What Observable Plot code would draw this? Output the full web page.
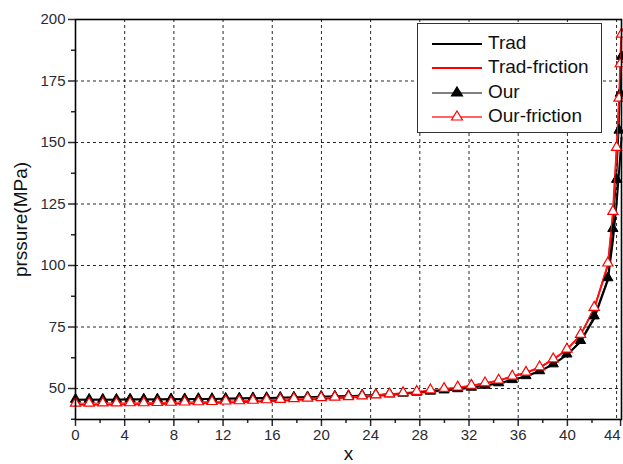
<!DOCTYPE html>
<html>
<head>
<meta charset="utf-8">
<script src="https://cdn.jsdelivr.net/npm/d3@7"></script>
<script src="https://cdn.jsdelivr.net/npm/@observablehq/plot@0.6"></script>
<style>
  html, body { margin: 0; padding: 0; background: #fff; }
  #wrap { position: relative; width: 623px; height: 464px; }
  #wrap svg text { font-family: "Liberation Sans", Arial, sans-serif !important; }
  #legend {
    position: absolute; left: 417px; top: 23px; width: 185px; height: 110px;
    border: 1px solid #333; background: #fff; box-sizing: border-box;
    font-family: "Liberation Sans", Arial, sans-serif; font-size: 19px; color: #111;
  }
  .row { position: absolute; left: 14px; height: 22px; display: flex; align-items: center; }
  .row svg { margin-right: 6px; }
</style>
</head>
<body>
<div id="wrap"></div>
<script>
// x positions
const xs = [0, 1.11, 2.22, 3.33, 4.44, 5.55, 6.66, 7.77, 8.88, 9.99,
  11.1, 12.21, 13.32, 14.43, 15.54, 16.65, 17.76, 18.87, 19.98, 21.09,
  22.2, 23.31, 24.42, 25.53, 26.64, 27.75, 28.86, 29.97, 31.08, 32.19,
  33.3, 34.41, 35.52, 36.63, 37.74, 38.85, 39.96, 41.07, 42.18, 43.29,
  43.7, 44.0, 44.2, 44.3, 44.4];

const trad = [45.4, 45.4, 45.4, 45.4, 45.5, 45.5, 45.5, 45.6, 45.6, 45.7,
  45.7, 45.8, 45.9, 46.0, 46.1, 46.2, 46.3, 46.4, 46.6, 46.7,
  46.9, 47.1, 47.3, 47.6, 47.9, 48.3, 48.7, 49.2, 49.7, 50.3,
  51.1, 52.1, 53.4, 55.0, 57.0, 59.8, 63.6, 69.0, 78.5, 94.0,
  110, 125, 138, 145, 152];

const tradFriction = [43.4, 43.4, 43.5, 43.5, 43.6, 43.6, 43.7, 43.8, 43.9, 44.0,
  44.1, 44.3, 44.4, 44.6, 44.8, 45.0, 45.3, 45.5, 45.8, 46.0,
  46.3, 46.6, 47.0, 47.4, 47.9, 48.4, 48.9, 49.6, 50.2, 51.0,
  52.1, 53.2, 54.9, 56.4, 58.5, 61.8, 65.8, 71.8, 82.5, 100,
  121, 147, 167, 181, 196];

const our = [45.6, 45.6, 45.6, 45.6, 45.7, 45.7, 45.7, 45.8, 45.8, 45.9,
  45.9, 46.0, 46.1, 46.2, 46.3, 46.4, 46.5, 46.6, 46.8, 46.9,
  47.1, 47.3, 47.5, 47.8, 48.1, 48.5, 48.9, 49.4, 49.9, 50.5,
  51.3, 52.3, 53.6, 55.2, 57.2, 60.0, 64.0, 69.5, 79.5, 95.0,
  115, 135, 155, 170, 185];

const ourFriction = [44.0, 44.0, 44.1, 44.1, 44.2, 44.2, 44.3, 44.4, 44.5, 44.6,
  44.7, 44.9, 45.0, 45.2, 45.4, 45.6, 45.9, 46.1, 46.3, 46.5,
  46.7, 47.0, 47.4, 47.8, 48.3, 48.8, 49.4, 50.0, 50.6, 51.3,
  52.3, 53.4, 55.0, 56.6, 58.8, 62.0, 66.0, 72.0, 83.0, 101,
  122, 148, 168, 182, 194];

const xMajor = [0, 4, 8, 12, 16, 20, 24, 28, 32, 36, 40, 44];
const xMinor = [2, 6, 10, 14, 18, 22, 26, 30, 34, 38, 42];
const yMajor = [50, 75, 100, 125, 150, 175, 200];
const yMinor = [37.5, 62.5, 87.5, 112.5, 137.5, 162.5, 187.5];

const names = ["Trad", "Trad-friction", "Our", "Our-friction"];
const seriesVals = [trad, tradFriction, our, ourFriction];
const rows = names.flatMap((n, k) => xs.map((x, i) => ({series: n, x, y: seriesVals[k][i]})));
const of = n => rows.filter(d => d.series === n);

const chart = Plot.plot({
  width: 623, height: 464,
  marginLeft: 75, marginRight: 2, marginTop: 19, marginBottom: 45,
  style: {fontFamily: "'Liberation Sans', Arial, sans-serif", fontSize: "15px", color: "#2a2a33", background: "#fff"},
  x: {domain: [0, 44.4]},
  y: {domain: [37.4, 200]},
  marks: [
    Plot.gridX(xMajor.filter(v => v > 0 && v < 44.4), {stroke: "#000", strokeOpacity: 0.85, strokeDasharray: "3,3"}),
    Plot.gridY(yMajor.filter(v => v < 200), {stroke: "#000", strokeOpacity: 0.85, strokeDasharray: "3,3"}),
    Plot.line(of("Trad"), {x: "x", y: "y", stroke: "#000", strokeWidth: 2}),
    Plot.line(of("Trad-friction"), {x: "x", y: "y", stroke: "#ff0000", strokeWidth: 2}),
    Plot.line(of("Our"), {x: "x", y: "y", stroke: "#000", strokeWidth: 1}),
    Plot.dot(of("Our"), {x: "x", y: "y", symbol: "triangle", r: 3.8, fill: "#000", stroke: "#000", strokeWidth: 1}),
    Plot.line(of("Our-friction"), {x: "x", y: "y", stroke: "#ff2020", strokeWidth: 1}),
    Plot.dot(of("Our-friction"), {x: "x", y: "y", symbol: "triangle", r: 3.8, fill: "#fff", stroke: "#ff0000", strokeWidth: 1.2}),
    Plot.axisX(xMajor.slice(0, -1), {tickSize: 7, tickPadding: 3, strokeWidth: 1.5, label: "x", labelArrow: "none", labelAnchor: "center", labelOffset: 40, fontSize: 15}),
    Plot.axisX(xMajor.slice(-1), {tickSize: 7, tickPadding: 3, strokeWidth: 1.5, label: null, fontSize: 15, textAnchor: "end", dx: 4}),
    Plot.axisX(xMinor, {tickSize: 4, text: null, strokeWidth: 1.5, label: null}),
    Plot.axisY(yMajor, {tickSize: 7, tickPadding: 3, strokeWidth: 1.5, label: "prssure(MPa)", labelArrow: "none", labelAnchor: "center", labelOffset: 62, fontSize: 15}),
    Plot.axisY(yMinor.filter(v => v > 37.4), {tickSize: 4, text: null, strokeWidth: 1.5, label: null}),
    Plot.frame({stroke: "#000", strokeWidth: 1.6})
  ]
});
document.getElementById("wrap").appendChild(chart);
d3.select(chart).selectAll("[aria-label$='axis label']").style("font-size", "19px").attr("fill", "#111");

// legend
const legend = document.createElement("div");
legend.id = "legend";
const sw = [
  {stroke: "#000", w: 2, sym: null},
  {stroke: "#ff0000", w: 2, sym: null},
  {stroke: "#000", w: 1, sym: "#000"},
  {stroke: "#ff3030", w: 1.5, sym: "#fff"}
];
names.forEach((n, i) => {
  const r = document.createElement("div");
  r.className = "row";
  r.style.top = (8 + i * 24.3) + "px";
  const s = sw[i];
  let tri = "";
  if (s.sym) tri = `<path d="M25,4 L30.5,13 L19.5,13 Z" fill="${s.sym}" stroke="${i === 3 ? '#ff0000' : '#000'}" stroke-width="1.2"/>`;
  r.innerHTML = `<svg width="50" height="18"><line x1="0" x2="50" y1="10" y2="10" stroke="${s.stroke}" stroke-width="${s.w}"/>${tri}</svg><span>${n}</span>`;
  legend.appendChild(r);
});
document.getElementById("wrap").appendChild(legend);
</script>
</body>
</html>
